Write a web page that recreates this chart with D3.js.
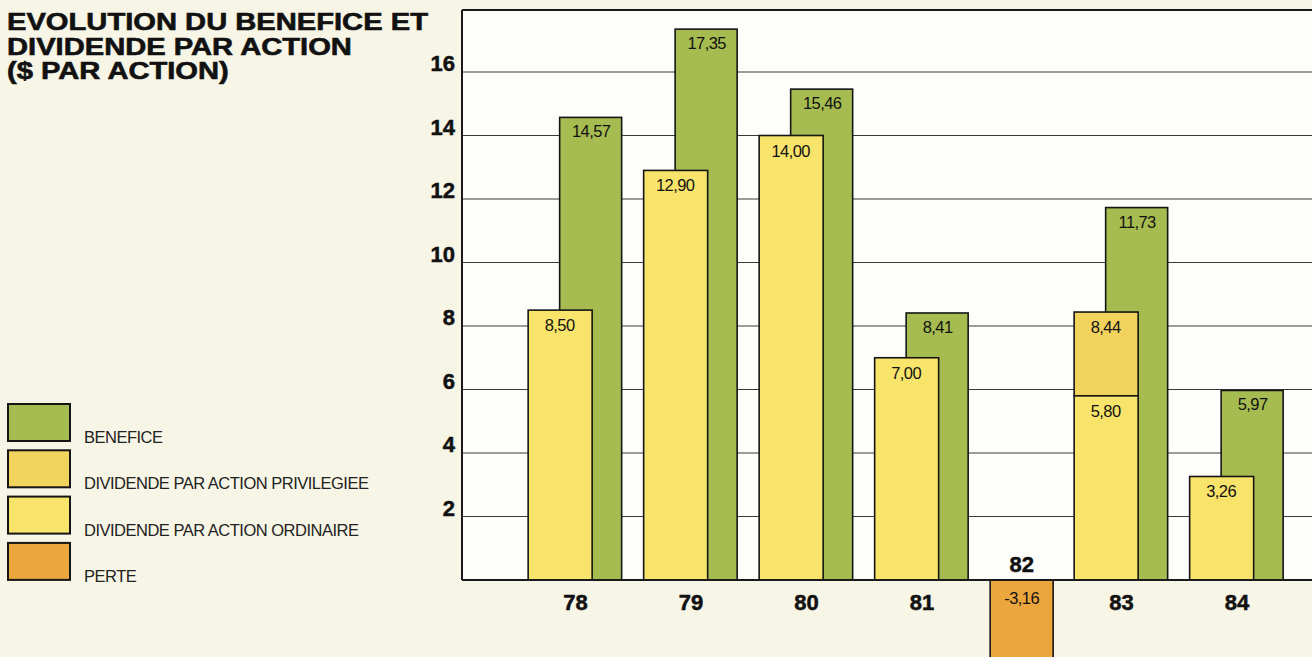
<!DOCTYPE html>
<html>
<head>
<meta charset="utf-8">
<script src="https://cdn.jsdelivr.net/npm/d3@7"></script>
<style>
  html, body { margin: 0; padding: 0; background: #f7f5e6; }
  svg { display: block; font-family: "Liberation Sans", Arial, sans-serif; }
</style>
</head>
<body>
<svg id="chart" width="1312" height="657"></svg>
<script>
// values ($ par action)
const years = ["78", "79", "80", "81", "82", "83", "84"];
const benefice = [14.57, 17.35, 15.46, 8.41, null, 11.73, 5.97];
const divOrdinaire = [8.50, 12.90, 14.00, 7.00, null, 5.80, 3.26];
const divPrivilegiee = [null, null, null, null, null, 8.44, null]; // top of the stacked dividend
const perte = [null, null, null, null, -3.16, null, null];
const yTicks = [2, 4, 6, 8, 10, 12, 14, 16];
const titleLines = ["EVOLUTION DU BENEFICE ET", "DIVIDENDE PAR ACTION", "($ PAR ACTION)"];
const legendItems = [
  {key: "benefice", label: "BENEFICE"},
  {key: "privilegiee", label: "DIVIDENDE PAR ACTION PRIVILEGIEE"},
  {key: "ordinaire", label: "DIVIDENDE PAR ACTION ORDINAIRE"},
  {key: "perte", label: "PERTE"}
];

const colors = {
  benefice: "#a6bc50",
  privilegiee: "#f1d35e",
  ordinaire: "#f8e46a",
  perte: "#eca63e"
};

const svg = d3.select("#chart");
const plotLeft = 462, plotTop = 10, plotRight = 1316, baseY = 580;

let y = d3.scaleLinear().domain([0, 16]).range([baseY, 72]);

// horizontal layout in "bar units": a normal year holds two overlapping bars (1.5 units),
// a loss year a single bar (1 unit); gaps are a third of a unit
let gap = 1 / 3, lead = 1.05;
let starts = [], pos = lead;
years.forEach((yr, i) => {
  starts.push(pos);
  pos += (perte[i] != null ? 1 : 1.5) + gap;
});
let x = d3.scaleLinear().domain([0, 1]).range([plotLeft, plotLeft + 63]);
let u = x(1) - x(0);

let fmt = v => d3.format(".2f")(v).replace(".", ",").replace("\u2212", "-");

// plot area
svg.append("rect")
  .attr("x", plotLeft).attr("y", plotTop)
  .attr("width", plotRight - plotLeft).attr("height", baseY - plotTop)
  .attr("fill", "#fdfdf9");

// gridlines
svg.append("g").selectAll("line")
  .data(yTicks)
  .enter().append("line")
  .attr("x1", plotLeft).attr("x2", plotRight)
  .attr("y1", d => y(d)).attr("y2", d => y(d))
  .attr("stroke", "#3a3a3a").attr("stroke-width", 1.2);

// frame: top and left border
svg.append("line").attr("x1", plotLeft).attr("x2", plotRight)
  .attr("y1", plotTop).attr("y2", plotTop)
  .attr("stroke", "#1a1a1a").attr("stroke-width", 2);
svg.append("line").attr("x1", plotLeft).attr("x2", plotLeft)
  .attr("y1", plotTop).attr("y2", baseY)
  .attr("stroke", "#1a1a1a").attr("stroke-width", 2);

// y tick labels
svg.append("g").selectAll("text")
  .data(yTicks)
  .enter().append("text")
  .attr("x", 455).attr("y", d => y(d) - 1)
  .attr("text-anchor", "end")
  .attr("font-size", 22).attr("font-weight", "bold").attr("fill", "#111")
  .attr("stroke", "#111").attr("stroke-width", 0.5)
  .text(d => d);

let bars = svg.append("g").attr("stroke", "#151515").attr("stroke-width", 1.6);

// benefice (behind)
years.forEach((yr, i) => {
  if (benefice[i] == null) return;
  let x0 = x(starts[i]) + u / 2;
  bars.append("rect")
    .attr("x", x0).attr("y", y(benefice[i]))
    .attr("width", u - 1).attr("height", y(0) - y(benefice[i]))
    .attr("fill", colors.benefice);
});

// dividends (front)
years.forEach((yr, i) => {
  if (divOrdinaire[i] == null) return;
  let x0 = x(starts[i]);
  if (divPrivilegiee[i] != null) {
    bars.append("rect")
      .attr("x", x0).attr("y", y(divPrivilegiee[i]))
      .attr("width", u + 1).attr("height", y(divOrdinaire[i]) - y(divPrivilegiee[i]))
      .attr("fill", colors.privilegiee);
  }
  bars.append("rect")
    .attr("x", x0).attr("y", y(divOrdinaire[i]))
    .attr("width", u + 1).attr("height", y(0) - y(divOrdinaire[i]))
    .attr("fill", colors.ordinaire);
});

// loss
years.forEach((yr, i) => {
  if (perte[i] == null) return;
  bars.append("rect")
    .attr("x", x(starts[i])).attr("y", y(0))
    .attr("width", u).attr("height", y(perte[i]) - y(0))
    .attr("fill", colors.perte);
});

// baseline
svg.append("line").attr("x1", plotLeft).attr("x2", plotRight)
  .attr("y1", baseY).attr("y2", baseY)
  .attr("stroke", "#1a1a1a").attr("stroke-width", 2);

// value labels
let vl = svg.append("g")
  .attr("font-size", 16.5).attr("text-anchor", "middle")
  .attr("fill", "#111").attr("letter-spacing", "-0.6");
years.forEach((yr, i) => {
  let s = x(starts[i]);
  if (benefice[i] != null)
    vl.append("text").attr("x", s + u).attr("y", y(benefice[i]) + 20).text(fmt(benefice[i]));
  if (divPrivilegiee[i] != null)
    vl.append("text").attr("x", s + u / 2).attr("y", y(divPrivilegiee[i]) + 21).text(fmt(divPrivilegiee[i]));
  if (divOrdinaire[i] != null)
    vl.append("text").attr("x", s + u / 2).attr("y", y(divOrdinaire[i]) + 21).text(fmt(divOrdinaire[i]));
  if (perte[i] != null)
    vl.append("text").attr("x", s + u / 2).attr("y", y(0) + 24).text(fmt(perte[i]));
});

// category labels
svg.append("g").selectAll("text")
  .data(years)
  .enter().append("text")
  .attr("x", (d, i) => x(starts[i]) + (perte[i] != null ? u / 2 : 0.75 * u))
  .attr("y", (d, i) => perte[i] != null ? y(0) - 8 : y(0) + 30)
  .attr("text-anchor", "middle")
  .attr("font-size", 22).attr("font-weight", "bold").attr("fill", "#111")
  .attr("stroke", "#111").attr("stroke-width", 0.5)
  .text(d => d);

// title (wide heavy face in the original: stretch the glyphs horizontally)
let title = svg.append("g").selectAll("text")
  .data(titleLines)
  .enter().append("text")
  .attr("x", 7).attr("y", (d, i) => 30 + i * 24.5)
  .attr("font-size", 23.5).attr("font-weight", "bold").attr("fill", "#111")
  .attr("stroke", "#111").attr("stroke-width", 0.6)
  .text(d => d);
title.each(function() {
  let w = this.getComputedTextLength();
  d3.select(this).attr("textLength", w * 1.24).attr("lengthAdjust", "spacingAndGlyphs");
});

// legend
let legend = svg.selectAll(".legend")
  .data(legendItems)
  .enter().append("g")
  .attr("class", "legend")
  .attr("transform", (d, i) => "translate(8," + (404 + i * 46.3) + ")");

legend.append("rect")
  .attr("width", 62).attr("height", 37)
  .attr("fill", d => colors[d.key])
  .attr("stroke", "#151515").attr("stroke-width", 2);

legend.append("text")
  .attr("x", 76).attr("y", 39)
  .attr("font-size", 16.5).attr("fill", "#222").attr("letter-spacing", "-0.5")
  .text(d => d.label);
</script>
</body>
</html>
